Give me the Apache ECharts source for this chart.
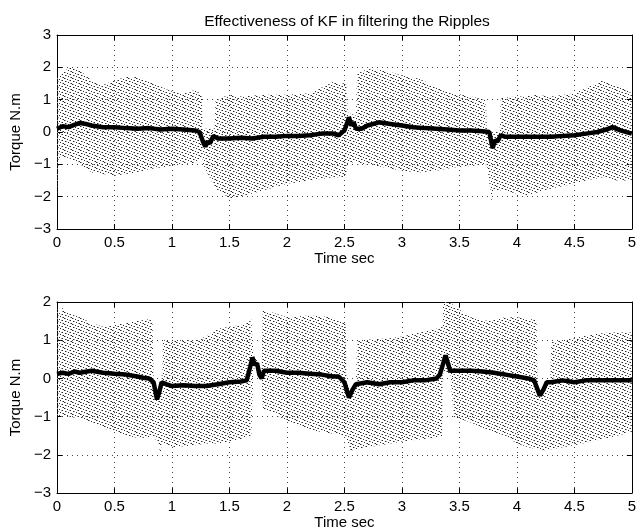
<!DOCTYPE html>
<html>
<head>
<meta charset="utf-8">
<script src="https://cdn.jsdelivr.net/npm/echarts@6/dist/echarts.min.js"></script>
<style>html,body{margin:0;padding:0;background:#fff}#c{width:639px;height:531px}</style>
</head>
<body>
<div id="c"></div>
<script>
// ---------- data ----------
const titleText = 'Effectiveness of KF in filtering the Ripples';
const xName = 'Time sec';
const yName = 'Torque N.m';

// top panel: ripple envelope (dotted raw signal)
const env1T  = [0, 0.02, 0.1, 0.2, 0.3, 0.4, 0.5, 0.6, 0.7, 0.8, 0.9, 1.0, 1.1, 1.2, 1.26, 1.27, 1.37, 1.38, 1.5, 1.6, 1.8, 2.0, 2.2, 2.4, 2.5, 2.52, 2.53, 2.6, 2.61, 2.7, 2.85, 3.0, 3.15, 3.3, 3.45, 3.6, 3.73, 3.74, 3.78, 3.8, 3.85, 3.86, 4.0, 4.08, 4.15, 4.3, 4.5, 4.6, 4.75, 4.87, 5.0];
const env1Up = [1.75, 1.7, 2.0, 1.9, 1.6, 1.45, 1.6, 1.7, 1.7, 1.55, 1.4, 1.25, 1.2, 1.3, 1.15, 0.1, 0.1, 1.0, 1.15, 1.1, 1.15, 1.15, 1.2, 1.55, 1.5, 1.45, 0.6, 0.5, 1.8, 1.95, 1.9, 1.75, 1.65, 1.4, 1.2, 1.1, 1.0, 0.05, 0.0, 0.0, 0.0, 1.05, 1.1, 1.1, 1.15, 1.1, 1.2, 1.35, 1.6, 1.45, 1.2];
const env1Lo = [-1.95, -0.8, -0.8, -1.0, -1.25, -1.3, -1.35, -1.3, -1.25, -1.15, -1.1, -1.05, -1.0, -0.95, -0.75, -1.0, -1.7, -1.75, -2.05, -2.0, -1.8, -1.6, -1.5, -1.4, -1.4, -1.3, -1.0, -0.9, -1.0, -1.0, -1.1, -1.2, -1.25, -1.2, -1.1, -1.05, -1.0, -1.0, -2.15, -1.8, -1.8, -1.8, -1.9, -1.95, -1.9, -1.75, -1.6, -1.5, -1.4, -1.5, -1.5];

// top panel: Kalman-filtered torque
const kf1T = [0, 0.05, 0.1, 0.15, 0.2, 0.25, 0.3, 0.4, 0.5, 0.6, 0.7, 0.8, 0.9, 1.0, 1.1, 1.2, 1.24, 1.27, 1.29, 1.31, 1.33, 1.36, 1.4, 1.5, 1.6, 1.7, 1.8, 1.9, 2.0, 2.1, 2.2, 2.3, 2.4, 2.45, 2.5, 2.52, 2.54, 2.56, 2.58, 2.6, 2.65, 2.7, 2.8, 2.9, 3.0, 3.1, 3.2, 3.3, 3.4, 3.5, 3.6, 3.7, 3.76, 3.79, 3.81, 3.83, 3.86, 3.9, 4.0, 4.1, 4.2, 4.3, 4.4, 4.5, 4.6, 4.7, 4.8, 4.83, 4.9, 5.0];
const kf1V = [0.1, 0.18, 0.15, 0.22, 0.28, 0.25, 0.2, 0.15, 0.15, 0.12, 0.1, 0.12, 0.08, 0.1, 0.08, 0.05, 0.0, -0.3, -0.45, -0.3, -0.35, -0.12, -0.2, -0.2, -0.18, -0.2, -0.15, -0.15, -0.12, -0.12, -0.1, -0.05, -0.05, -0.1, 0.05, 0.25, 0.45, 0.2, 0.3, 0.1, 0.1, 0.2, 0.3, 0.25, 0.2, 0.15, 0.12, 0.1, 0.08, 0.05, 0.05, 0.02, 0.0, -0.5, -0.25, -0.3, -0.1, -0.15, -0.15, -0.15, -0.15, -0.15, -0.12, -0.1, -0.05, 0.0, 0.1, 0.15, 0.05, -0.05];

// bottom panel: ripple envelope
const env2T  = [0, 0.02, 0.05, 0.1, 0.2, 0.3, 0.4, 0.5, 0.6, 0.7, 0.8, 0.83, 0.84, 0.88, 0.9, 0.91, 0.92, 1.0, 1.2, 1.3, 1.4, 1.5, 1.6, 1.68, 1.69, 1.71, 1.78, 1.79, 1.9, 2.0, 2.2, 2.4, 2.5, 2.51, 2.52, 2.55, 2.6, 2.61, 2.9, 3.0, 3.15, 3.3, 3.35, 3.36, 3.42, 3.45, 3.6, 3.75, 3.9, 4.0, 4.1, 4.17, 4.18, 4.2, 4.29, 4.3, 4.5, 4.65, 4.8, 5.0];
const env2Up = [1.85, 1.7, 1.85, 1.7, 1.6, 1.45, 1.35, 1.4, 1.45, 1.5, 1.55, 1.5, 0.05, -0.3, -0.1, 0.0, 1.0, 1.0, 1.0, 1.1, 1.3, 1.35, 1.4, 1.5, 1.55, 0.6, 0.3, 1.8, 1.7, 1.6, 1.65, 1.6, 1.45, 1.45, 0.0, -0.3, -0.1, 1.0, 1.05, 1.1, 1.2, 1.3, 1.35, 2.0, 2.0, 1.9, 1.6, 1.5, 1.6, 1.6, 1.55, 1.55, 0.0, -0.3, -0.05, 0.95, 1.05, 1.15, 1.2, 1.2];
const env2Lo = [-1.0, -1.0, -1.0, -1.0, -1.05, -1.15, -1.3, -1.4, -1.5, -1.55, -1.55, -1.5, -1.55, -1.65, -2.0, -1.7, -1.7, -1.8, -1.75, -1.7, -1.7, -1.65, -1.6, -1.5, -1.5, 0.3, 0.0, -0.8, -0.95, -1.1, -1.35, -1.45, -1.5, -1.5, -1.6, -1.9, -1.85, -1.85, -1.7, -1.65, -1.6, -1.55, -1.5, 0.15, 0.1, -1.0, -1.15, -1.35, -1.5, -1.7, -1.8, -1.85, -1.85, -1.9, -1.85, -1.85, -1.75, -1.65, -1.55, -1.4];

// bottom panel: Kalman-filtered torque
const kf2T = [0, 0.05, 0.1, 0.15, 0.2, 0.3, 0.4, 0.5, 0.6, 0.7, 0.75, 0.8, 0.84, 0.87, 0.89, 0.91, 0.95, 1.0, 1.1, 1.2, 1.3, 1.4, 1.5, 1.6, 1.65, 1.68, 1.7, 1.72, 1.74, 1.76, 1.78, 1.8, 1.9, 2.0, 2.1, 2.2, 2.3, 2.4, 2.45, 2.5, 2.54, 2.57, 2.6, 2.7, 2.8, 2.9, 3.0, 3.1, 3.2, 3.3, 3.33, 3.36, 3.38, 3.4, 3.42, 3.45, 3.5, 3.6, 3.7, 3.8, 3.9, 4.0, 4.1, 4.15, 4.2, 4.23, 4.26, 4.3, 4.4, 4.5, 4.6, 4.7, 4.8, 4.9, 5.0];
const kf2V = [0.12, 0.15, 0.12, 0.18, 0.15, 0.2, 0.15, 0.12, 0.1, 0.05, 0.02, 0.0, -0.1, -0.55, -0.35, -0.1, -0.15, -0.2, -0.18, -0.2, -0.2, -0.15, -0.1, -0.08, -0.05, 0.3, 0.55, 0.35, 0.4, 0.1, 0.0, 0.2, 0.2, 0.15, 0.15, 0.12, 0.1, 0.05, 0.05, -0.1, -0.5, -0.3, -0.15, -0.1, -0.15, -0.1, -0.1, -0.05, -0.05, 0.0, 0.1, 0.4, 0.6, 0.4, 0.2, 0.2, 0.2, 0.2, 0.18, 0.15, 0.1, 0.05, 0.0, -0.05, -0.45, -0.3, -0.1, -0.1, -0.05, -0.1, -0.05, -0.05, -0.05, -0.05, -0.05];

// ---------- rendering ----------
const FONT = 'Liberation Sans, Arial, Helvetica, sans-serif';
const FS = 15;

// dotted texture for the raw ripple signal (sloping rows of dots)
const pc = document.createElement('canvas');
pc.width = 8; pc.height = 6;
const pg = pc.getContext('2d');
pg.fillStyle = '#2a2a2a';
[[0,0],[3,1],[6,2],[1,3],[4,4],[7,5]].forEach(p => pg.fillRect(p[0], p[1], 1, 1));
pg.fillStyle = '#9a9a9a';
[[1,0],[5,2],[2,3],[6,5]].forEach(p => pg.fillRect(p[0], p[1], 1, 1));
const pattern = { image: pc, repeat: 'repeat' };

const minusFmt = v => String(v).replace('-', '\u2212');

function mainX(gi) {
  return {
    type: 'value', gridIndex: gi, min: 0, max: 5, interval: 0.5, position: 'bottom',
    name: xName, nameLocation: 'middle', nameGap: 21,
    nameTextStyle: { fontFamily: FONT, fontSize: FS, color: '#000' },
    axisLine: { show: true, onZero: false, lineStyle: { color: '#000', width: 1 } },
    axisTick: { show: true, inside: true, length: 5, lineStyle: { color: '#000' } },
    axisLabel: { margin: 6, fontFamily: FONT, fontSize: FS, color: '#000', showMaxLabel: true, showMinLabel: true },
    splitLine: { show: true, lineStyle: { color: '#444', width: 1, type: [1, 4] } }
  };
}
function topX(gi) {
  return {
    type: 'value', gridIndex: gi, min: 0, max: 5, interval: 0.5, position: 'top',
    axisLine: { show: true, onZero: false, lineStyle: { color: '#000', width: 1 } },
    axisTick: { show: true, inside: true, length: 5, lineStyle: { color: '#000' } },
    axisLabel: { show: false }, splitLine: { show: false }
  };
}
function mainY(gi, min, max) {
  return {
    type: 'value', gridIndex: gi, min: min, max: max, interval: 1, position: 'left',
    name: yName, nameLocation: 'middle', nameGap: 21, nameRotate: 90,
    nameTextStyle: { fontFamily: FONT, fontSize: FS, color: '#000' },
    axisLine: { show: true, onZero: false, lineStyle: { color: '#000', width: 1 } },
    axisTick: { show: true, inside: true, length: 5, lineStyle: { color: '#000' } },
    axisLabel: { margin: 6, fontFamily: FONT, fontSize: FS, color: '#000', formatter: minusFmt },
    splitLine: { show: true, lineStyle: { color: '#444', width: 1, type: [1, 4] } }
  };
}
function rightY(gi, min, max) {
  return {
    type: 'value', gridIndex: gi, min: min, max: max, interval: 1, position: 'right',
    axisLine: { show: true, onZero: false, lineStyle: { color: '#000', width: 1 } },
    axisTick: { show: true, inside: true, length: 5, lineStyle: { color: '#000' } },
    axisLabel: { show: false }, splitLine: { show: false }
  };
}
function band(xi, yi, T, UP, LO) {
  return {
    type: 'custom', xAxisIndex: xi, yAxisIndex: yi, silent: true, z: 1, clip: true,
    data: T.map((t, i) => [t, UP[i], LO[i]]),
    encode: { x: 0, y: [1, 2] },
    renderItem: function (params, api) {
      if (params.dataIndex !== 0) return null;
      const pts = [];
      for (let i = 0; i < T.length; i++) pts.push(api.coord([T[i], UP[i]]));
      for (let i = T.length - 1; i >= 0; i--) pts.push(api.coord([T[i], LO[i]]));
      return { type: 'polygon', shape: { points: pts }, style: { fill: pattern, stroke: null } };
    }
  };
}
function kfLine(xi, yi, T, V) {
  return {
    type: 'line', xAxisIndex: xi, yAxisIndex: yi, z: 3, symbol: 'none', silent: true,
    lineStyle: { color: '#000', width: 4.5 },
    data: T.map((t, i) => [t, V[i]])
  };
}

const chart = echarts.init(document.getElementById('c'), null, { renderer: 'canvas' });
chart.setOption({
  backgroundColor: '#fff',
  animation: false,
  title: {
    text: titleText, left: 342, top: 9, textAlign: 'center',
    textStyle: { fontFamily: FONT, fontSize: 15.5, fontWeight: 'normal', color: '#000' }
  },
  grid: [
    { left: 52, top: 35, width: 583, height: 194, containLabel: false },
    { left: 52, top: 302, width: 583, height: 193, containLabel: false }
  ],
  xAxis: [mainX(0), topX(0), mainX(1), topX(1)],
  yAxis: [mainY(0, -3, 3), rightY(0, -3, 3), mainY(1, -3, 2), rightY(1, -3, 2)],
  series: [
    band(0, 0, env1T, env1Up, env1Lo),
    kfLine(0, 0, kf1T, kf1V),
    band(2, 2, env2T, env2Up, env2Lo),
    kfLine(2, 2, kf2T, kf2V)
  ]
});
</script>
</body>
</html>
